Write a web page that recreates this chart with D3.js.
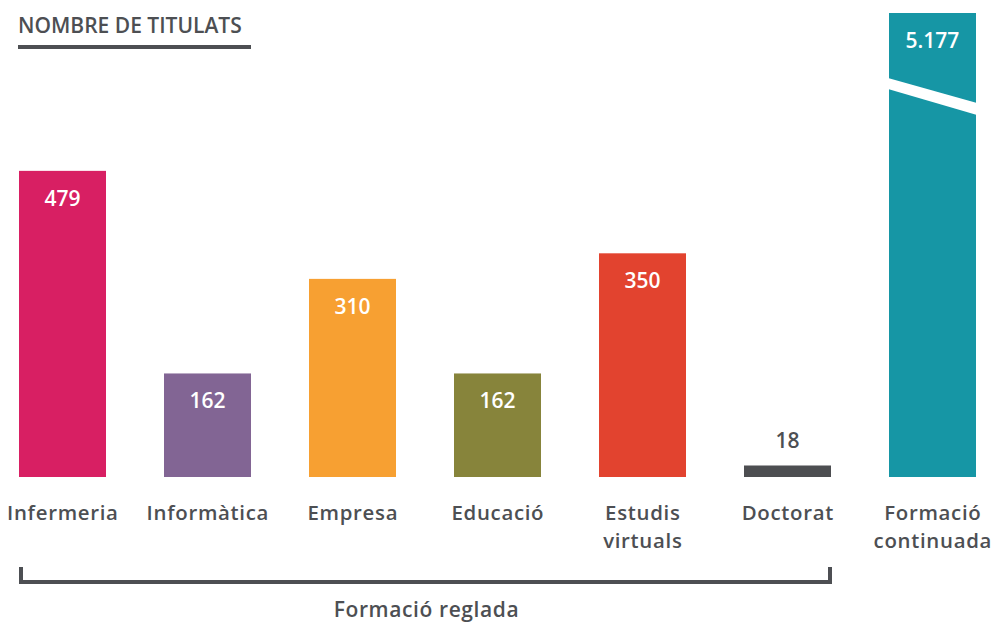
<!DOCTYPE html>
<html>
<head>
<meta charset="utf-8">
<script src="https://cdn.jsdelivr.net/npm/d3@7"></script>
<style>
  html, body { margin: 0; padding: 0; background: #ffffff; }
  svg { display: block; font-family: "Open Sans", sans-serif; }
</style>
</head>
<body>
<svg id="chart" width="993" height="623"></svg>
<script>
// ---- data ----
const categories = ["Infermeria", "Informàtica", "Empresa", "Educació", "Estudis virtuals", "Doctorat", "Formació continuada"];
const labelLines = [["Infermeria"], ["Informàtica"], ["Empresa"], ["Educació"], ["Estudis", "virtuals"], ["Doctorat"], ["Formació", "continuada"]];
const values = [479, 162, 310, 162, 350, 18, 5177];
const valueLabels = ["479", "162", "310", "162", "350", "18", "5.177"];
const colors = ["#d81f63", "#826594", "#f7a032", "#87843b", "#e2432f", "#4d4e51", "#1696a5"];
const title = "NOMBRE DE TITULATS";
const groupLabel = "Formació reglada";
const groupMembers = ["Infermeria", "Informàtica", "Empresa", "Educació", "Estudis virtuals", "Doctorat"];
const brokenCategory = "Formació continuada";
const axisCap = 726; // visible top of the value axis (bar above is broken)

const textColor = "#4d4f53";
const svg = d3.select("#chart");

const x = d3.scaleBand().domain(categories).range([19, 976]).paddingInner(0.4).paddingOuter(0);
const y = d3.scaleLinear().domain([0, axisCap]).range([477, 13]).clamp(true);

const data = categories.map((c, i) => ({ c, v: values[i], lab: valueLabels[i], col: colors[i], lines: labelLines[i] }));
const bw = x.bandwidth();
const cx = c => x(c) + bw / 2;

// title
svg.append("text").attr("x", 18).attr("y", 33)
  .attr("font-size", 21).attr("font-weight", 600).attr("fill", textColor).text(title);
svg.append("rect").attr("x", 18).attr("y", 45).attr("width", 233).attr("height", 4).attr("fill", textColor);

// bars
svg.selectAll("rect.bar").data(data).enter().append("rect")
  .attr("class", "bar")
  .attr("x", d => x(d.c))
  .attr("width", bw)
  .attr("y", d => y(d.v))
  .attr("height", d => y(0) - y(d.v))
  .attr("fill", d => d.col);

// break on the broken bar
const bb = data.find(d => d.c === brokenCategory);
const bx0 = x(bb.c) - 1, bx1 = x(bb.c) + bw + 1;
svg.append("polygon")
  .attr("points", [[bx0, 78], [bx1, 103], [bx1, 115], [bx0, 89]].map(p => p.join(",")).join(" "))
  .attr("fill", "#ffffff");

// value labels
svg.selectAll("text.val").data(data).enter().append("text")
  .attr("class", "val")
  .attr("x", d => cx(d.c))
  .attr("y", d => d.v < 30 ? y(d.v) - 17 : y(d.v) + 35)
  .attr("text-anchor", "middle")
  .attr("font-size", 21).attr("font-weight", 600)
  .attr("fill", d => d.v < 30 ? textColor : "#ffffff")
  .text(d => d.lab);

// category labels (one text element per line)
const lineData = [];
data.forEach(d => d.lines.forEach((l, i) => lineData.push({ l, x: cx(d.c), y: 520 + i * 28 })));
svg.selectAll("text.cat").data(lineData).enter().append("text")
  .attr("class", "cat")
  .attr("x", d => d.x + 0.35)
  .attr("y", d => d.y)
  .attr("text-anchor", "middle")
  .attr("font-size", 20.4).attr("font-weight", 600)
  .attr("letter-spacing", 0.7)
  .attr("fill", textColor)
  .text(d => d.l);

// group bracket
const gx0 = x(groupMembers[0]);
const gx1 = x(groupMembers[groupMembers.length - 1]) + bw + 1;
svg.append("path")
  .attr("d", `M${gx0 + 2},567 V582 H${gx1 - 2} V567`)
  .attr("fill", "none").attr("stroke", textColor).attr("stroke-width", 4);
svg.append("text").attr("x", (gx0 + gx1) / 2 + 1).attr("y", 617)
  .attr("text-anchor", "middle").attr("font-size", 21).attr("font-weight", 600)
  .attr("letter-spacing", 0.6)
  .attr("fill", textColor).text(groupLabel);
</script>
</body>
</html>
